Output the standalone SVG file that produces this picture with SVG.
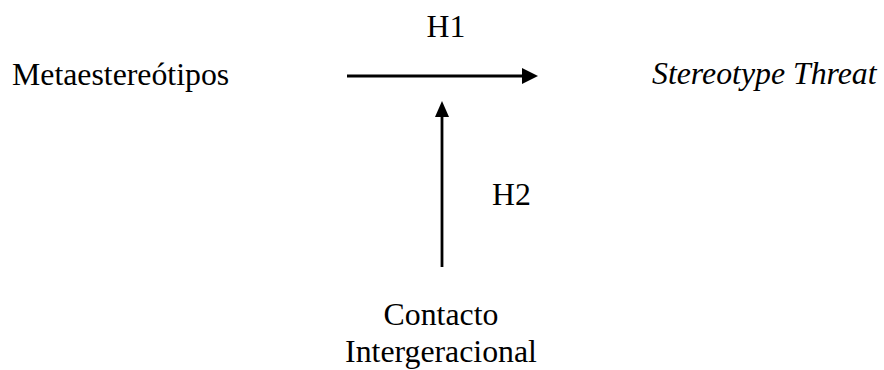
<svg xmlns="http://www.w3.org/2000/svg" width="884" height="370" viewBox="0 0 884 370">
<style>
text { font-family: "Liberation Serif", "Times New Roman", serif; font-size: 31.8px; fill: #000; }
.line { stroke: #000; stroke-width: 2.8; fill: none; }
.head { fill: #000; }
</style>
<rect width="884" height="370" fill="#fff"/>
<g id="node-metaestereotipos"><text x="12" y="85">Metaestereótipos</text></g>
<g id="node-stereotype-threat"><text x="652" y="84" font-style="italic">Stereotype Threat</text></g>
<g id="node-contacto"><text x="441" y="325" text-anchor="middle">Contacto</text><text x="441" y="362" text-anchor="middle">Intergeracional</text></g>
<g id="connectors">
<line class="line" x1="347" y1="76" x2="524" y2="76"/>
<polygon class="head" points="522,68 538,76 522,84"/>
<line class="line" x1="442" y1="267" x2="442" y2="115"/>
<polygon class="head" points="435,117 442,101 449,117"/>
<text x="446" y="37" text-anchor="middle">H1</text>
<text x="492" y="205">H2</text>
</g>
</svg>
